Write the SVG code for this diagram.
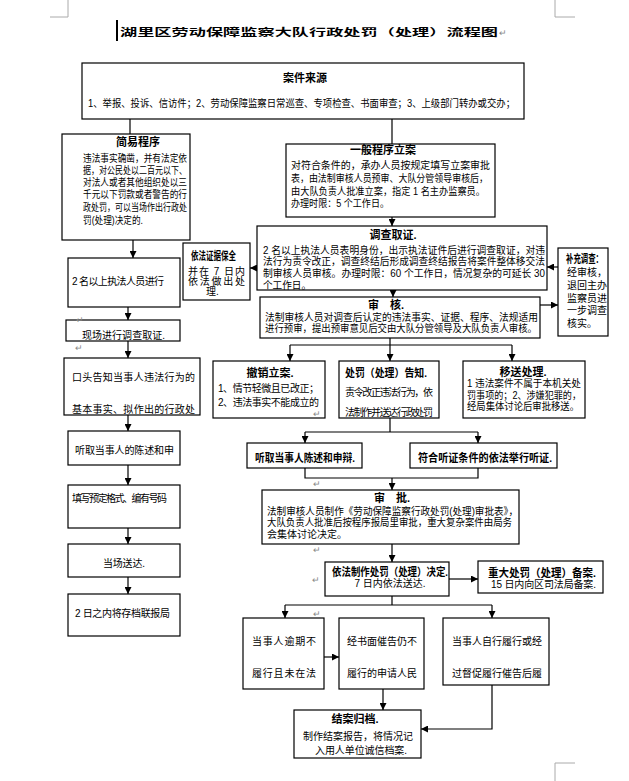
<svg xmlns="http://www.w3.org/2000/svg" width="629" height="781" viewBox="0 0 629 781">
<defs>
<style>
.b{fill:#fff;stroke:#000;stroke-width:1.2}
.t{font-family:"Liberation Sans","Noto Sans CJK SC",sans-serif;font-size:10px;fill:#000}
.h{font-weight:bold;font-size:11px}
.m{text-anchor:middle}
.c line,.c polyline{stroke:#000;stroke-width:1.2;fill:none}
.a{marker-end:url(#ar)}
.r{font-family:"Liberation Sans","Noto Sans CJK SC",sans-serif;font-size:9px;fill:#888}
.k{stroke:#aaa;stroke-width:1;fill:none}
</style>
<marker id="ar" viewBox="0 0 8 8" refX="8" refY="4" markerWidth="7" markerHeight="7" orient="auto" markerUnits="userSpaceOnUse"><path d="M0,0 L8,4 L0,8 z" fill="#000"/></marker>
</defs>
<rect width="629" height="781" fill="#fff"/>
<g id="marks">
<path class="k" d="M68,0 V17 H50 M555,0 V17 H575 M575,763 H555 V781"/>
<rect x="116" y="20" width="2" height="21" fill="#000"/>
</g>
<g id="title">
<text class="t" x="120" y="36" font-size="17" font-weight="bold" textLength="378" lengthAdjust="spacingAndGlyphs">湖里区劳动保障监察大队行政处罚（处理）流程图</text>
<text class="r" x="499" y="36">↵</text>
</g>
<g class="c" id="connectors">
<line x1="130" y1="119" x2="130" y2="134"/>
<line x1="392" y1="119" x2="392" y2="144"/>
<line class="a" x1="133" y1="240" x2="133" y2="258"/>
<line class="a" x1="128" y1="307" x2="128" y2="320"/>
<line class="a" x1="128" y1="341" x2="128" y2="358"/>
<line class="a" x1="128" y1="415" x2="128" y2="431"/>
<line class="a" x1="128" y1="465" x2="128" y2="485"/>
<line class="a" x1="128" y1="528" x2="128" y2="544"/>
<line class="a" x1="128" y1="577" x2="128" y2="594"/>
<line class="a" x1="392" y1="217" x2="392" y2="226"/>
<line class="a" x1="257" y1="268" x2="250" y2="268"/>
<line class="a" x1="558" y1="267" x2="547" y2="267"/>
<line class="a" x1="540" y1="305" x2="558" y2="305"/>
<line class="a" x1="393" y1="290" x2="393" y2="297"/>
<line x1="390" y1="338" x2="390" y2="345"/>
<line x1="290" y1="345" x2="512" y2="345"/>
<line class="a" x1="290" y1="345" x2="290" y2="361"/>
<line class="a" x1="390" y1="345" x2="390" y2="361"/>
<line class="a" x1="512" y1="345" x2="512" y2="361"/>
<line x1="390" y1="418" x2="390" y2="432"/>
<line x1="305" y1="432" x2="478" y2="432"/>
<line class="a" x1="305" y1="432" x2="305" y2="443"/>
<line class="a" x1="478" y1="432" x2="478" y2="443"/>
<polyline points="305,468 305,478 478,478 478,468"/>
<line class="a" x1="392" y1="478" x2="392" y2="490"/>
<line class="a" x1="392" y1="544" x2="392" y2="562"/>
<line class="a" x1="449" y1="579" x2="478" y2="579"/>
<line x1="392" y1="596" x2="392" y2="605"/>
<line x1="285" y1="605" x2="492" y2="605"/>
<line class="a" x1="285" y1="605" x2="285" y2="618"/>
<line class="a" x1="492" y1="605" x2="492" y2="618"/>
<line class="a" x1="324" y1="657" x2="339" y2="657"/>
<line class="a" x1="383" y1="689" x2="383" y2="710"/>
<polyline class="a" points="492,685 492,729 421,729"/>
</g>
<g id="source">
<rect class="b" x="82" y="63" width="442" height="56"/>
<text class="t h m" x="305" y="82">案件来源</text>
<text class="t" x="88" y="107" textLength="427" lengthAdjust="spacingAndGlyphs">1、举报、投诉、信访件；2、劳动保障监察日常巡查、专项检查、书面审查；3、上级部门转办或交办；</text>
</g>
<g id="simple">
<rect class="b" x="62" y="134" width="128" height="106"/>
<text class="t h m" x="138" y="146" font-size="12">简易程序</text>
<text class="t" x="83" y="162" font-size="10.5" textLength="104" lengthAdjust="spacingAndGlyphs">违法事实确凿，并有法定依</text>
<text class="t" x="83" y="174" font-size="10.5" textLength="104" lengthAdjust="spacingAndGlyphs">据，对公民处以二百元以下、</text>
<text class="t" x="83" y="186" font-size="10.5" textLength="104" lengthAdjust="spacingAndGlyphs">对法人或者其他组织处以三</text>
<text class="t" x="83" y="198" font-size="10.5" textLength="104" lengthAdjust="spacingAndGlyphs">千元以下罚款或者警告的行</text>
<text class="t" x="83" y="211" font-size="10.5" textLength="104" lengthAdjust="spacingAndGlyphs">政处罚，可以当场作出行政处</text>
<text class="t" x="83" y="224" font-size="10.5" textLength="60" lengthAdjust="spacingAndGlyphs">罚(处理)决定的.</text>
</g>
<g id="s1">
<rect class="b" x="68" y="258" width="112" height="49"/>
<text class="t" x="72" y="285" textLength="92" lengthAdjust="spacing">2 名以上执法人员进行</text>
</g>
<g id="s2">
<rect class="b" x="66" y="320" width="114" height="21"/>
<text class="t" x="82" y="339" textLength="83" lengthAdjust="spacing">现场进行调查取证.</text>
<text class="r" x="76" y="323">↵</text>
<text class="r" x="75" y="351">↵</text>
</g>
<g id="s3">
<rect class="b" x="64" y="358" width="136" height="57"/>
<text class="t" x="72" y="381" textLength="123" lengthAdjust="spacing">口头告知当事人违法行为的</text>
<text class="t" x="72" y="413" textLength="123" lengthAdjust="spacing">基本事实、拟作出的行政处</text>
</g>
<g id="s4">
<rect class="b" x="68" y="431" width="112" height="34"/>
<text class="t" x="75" y="454" textLength="99" lengthAdjust="spacing">听取当事人的陈述和申</text>
</g>
<g id="s5">
<rect class="b" x="68" y="485" width="112" height="43"/>
<text class="t" x="72" y="502" textLength="95" lengthAdjust="spacing">填写预定格式、编有号码</text>
</g>
<g id="s6">
<rect class="b" x="68" y="544" width="112" height="33"/>
<text class="t" x="103" y="567" textLength="42" lengthAdjust="spacing">当场送达.</text>
</g>
<g id="s7">
<rect class="b" x="68" y="594" width="112" height="42"/>
<text class="t" x="75" y="617" textLength="95" lengthAdjust="spacing">2 日之内将存档联报局</text>
</g>
<g id="general">
<rect class="b" x="286" y="144" width="209" height="73"/>
<text class="t h m" x="383" y="154" font-size="12">一般程序立案</text>
<text class="t" x="291" y="169" textLength="199" lengthAdjust="spacingAndGlyphs">对符合条件的，承办人员按规定填写立案审批</text>
<text class="t" x="291" y="182" textLength="197" lengthAdjust="spacingAndGlyphs">表，由法制审核人员预审、大队分管领导审核后，</text>
<text class="t" x="291" y="195" textLength="194" lengthAdjust="spacingAndGlyphs">由大队负责人批准立案，指定 1 名主办监察员。</text>
<text class="t" x="291" y="207" textLength="98" lengthAdjust="spacingAndGlyphs">办理时限：5 个工作日。</text>
</g>
<g id="investigate">
<rect class="b" x="257" y="226" width="290" height="64"/>
<text class="t h m" x="393" y="239">调查取证.</text>
<text class="t" x="263" y="254" textLength="282" lengthAdjust="spacingAndGlyphs">2 名以上执法人员表明身份，出示执法证件后进行调查取证，对违</text>
<text class="t" x="263" y="265" textLength="282" lengthAdjust="spacingAndGlyphs">法行为责令改正，调查终结后形成调查终结报告将案件整体移交法</text>
<text class="t" x="263" y="277" textLength="282" lengthAdjust="spacingAndGlyphs">制审核人员审核。办理时限：60 个工作日，情况复杂的可延长 30</text>
<text class="t" x="263" y="289" textLength="48" lengthAdjust="spacingAndGlyphs">个工作日。</text>
</g>
<g id="preserve">
<rect class="b" x="183" y="243" width="67" height="57"/>
<text class="t h" x="191" y="260" font-size="9" textLength="45" lengthAdjust="spacingAndGlyphs">依法证据保全</text>
<text class="t" x="188" y="275" textLength="57" lengthAdjust="spacing">并在 7 日内</text>
<text class="t" x="188" y="285" textLength="57" lengthAdjust="spacing">依法做出处</text>
<text class="t" x="206" y="295">理.</text>
</g>
<g id="supplement">
<rect class="b" x="558" y="248" width="50" height="88"/>
<text class="t h" x="566" y="263" font-size="8" textLength="37" lengthAdjust="spacingAndGlyphs">补充调查：</text>
<text class="t" x="567" y="276" font-size="8">经审核，</text>
<text class="t" x="567" y="289" font-size="8">退回主办</text>
<text class="t" x="567" y="302" font-size="8">监察员进</text>
<text class="t" x="567" y="314" font-size="8">一步调查</text>
<text class="t" x="567" y="327" font-size="8">核实。</text>
</g>
<g id="review">
<rect class="b" x="260" y="297" width="280" height="41"/>
<text class="t h m" x="386" y="309">审　核.</text>
<text class="t" x="265" y="321" textLength="273" lengthAdjust="spacingAndGlyphs">法制审核人员对调查后认定的违法事实、证据、程序、法规适用</text>
<text class="t" x="265" y="332" textLength="272" lengthAdjust="spacingAndGlyphs">进行预审，提出预审意见后交由大队分管领导及大队负责人审核。</text>
</g>
<g id="revoke">
<rect class="b" x="213" y="361" width="112" height="57"/>
<text class="t h m" x="270" y="377">撤销立案.</text>
<text class="t" x="218" y="392" textLength="101" lengthAdjust="spacing">1、情节轻微且已改正；</text>
<text class="t" x="218" y="406" textLength="101" lengthAdjust="spacing">2、违法事实不能成立的</text>
<text class="r" x="313" y="417">↵</text>
</g>
<g id="notify">
<rect class="b" x="339" y="361" width="100" height="57"/>
<text class="t h" x="345" y="377" textLength="82" lengthAdjust="spacingAndGlyphs">处罚（处理）告知.</text>
<text class="t" x="345" y="396" textLength="88" lengthAdjust="spacing">责令改正违法行为，依</text>
<text class="t" x="345" y="416" textLength="88" lengthAdjust="spacing">法制作并送达行政处罚</text>
</g>
<g id="transfer">
<rect class="b" x="463" y="361" width="122" height="57"/>
<text class="t h m" x="523" y="376">移送处理.</text>
<text class="t" x="467" y="387" font-size="9.5" textLength="114" lengthAdjust="spacingAndGlyphs">1 违法案件不属于本机关处</text>
<text class="t" x="467" y="399" font-size="9.5" textLength="114" lengthAdjust="spacingAndGlyphs">罚事项的；2、涉嫌犯罪的，</text>
<text class="t" x="467" y="410" font-size="9.5" textLength="112" lengthAdjust="spacingAndGlyphs">经局集体讨论后审批移送。</text>
</g>
<g id="statement">
<rect class="b" x="247" y="443" width="115" height="25"/>
<text class="t h" x="255" y="462" font-size="10.5" textLength="100" lengthAdjust="spacingAndGlyphs">听取当事人陈述和申辩.</text>
</g>
<g id="hearing">
<rect class="b" x="410" y="443" width="147" height="25"/>
<text class="t h" x="418" y="462" font-size="10.5" textLength="134" lengthAdjust="spacingAndGlyphs">符合听证条件的依法举行听证.</text>
<text class="r" x="313" y="487">↵</text>
</g>
<g id="approve">
<rect class="b" x="262" y="490" width="257" height="54"/>
<text class="t h m" x="392" y="502">审　批.</text>
<text class="t" x="267" y="515" textLength="251" lengthAdjust="spacingAndGlyphs">法制审核人员制作《劳动保障监察行政处罚(处理)审批表》，</text>
<text class="t" x="267" y="526" textLength="245" lengthAdjust="spacingAndGlyphs">大队负责人批准后按程序报局里审批，重大复杂案件由局务</text>
<text class="t" x="267" y="538" textLength="80" lengthAdjust="spacingAndGlyphs">会集体讨论决定。</text>
<text class="r" x="313" y="553">↵</text>
</g>
<g id="decision">
<rect class="b" x="325" y="562" width="124" height="34"/>
<text class="t h m" x="390" y="576" font-size="10" textLength="116" lengthAdjust="spacingAndGlyphs">依法制作处罚（处理）决定.</text>
<text class="t m" x="390" y="587">7 日内依法送达.</text>
<text class="r" x="312" y="583">↵</text>
</g>
<g id="record">
<rect class="b" x="478" y="561" width="125" height="32"/>
<text class="t h" x="488" y="577" font-size="10" textLength="108" lengthAdjust="spacingAndGlyphs">重大处罚（处理）备案.</text>
<text class="t" x="491" y="588" textLength="105" lengthAdjust="spacing">15 日内向区司法局备案.</text>
</g>
<g id="overdue">
<rect class="b" x="243" y="618" width="81" height="71"/>
<text class="t" x="252" y="645" textLength="64" lengthAdjust="spacing">当事人逾期不</text>
<text class="t" x="252" y="677" textLength="64" lengthAdjust="spacing">履行且未在法</text>
<text class="r" x="313" y="617">↵</text>
</g>
<g id="court">
<rect class="b" x="339" y="618" width="85" height="71"/>
<text class="t" x="347" y="645" textLength="70" lengthAdjust="spacing">经书面催告仍不</text>
<text class="t" x="347" y="677" textLength="70" lengthAdjust="spacing">履行的申请人民</text>
</g>
<g id="perform">
<rect class="b" x="443" y="618" width="106" height="67"/>
<text class="t" x="452" y="645" textLength="90" lengthAdjust="spacing">当事人自行履行或经</text>
<text class="t" x="452" y="677" textLength="90" lengthAdjust="spacing">过督促履行催告后履</text>
</g>
<g id="close">
<rect class="b" x="294" y="710" width="127" height="48"/>
<text class="t h m" x="355" y="723">结案归档.</text>
<text class="t" x="303" y="740" textLength="110" lengthAdjust="spacing">制作结案报告，将情况记</text>
<text class="t" x="315" y="754" textLength="92" lengthAdjust="spacing">入用人单位诚信档案.</text>
</g>
</svg>
